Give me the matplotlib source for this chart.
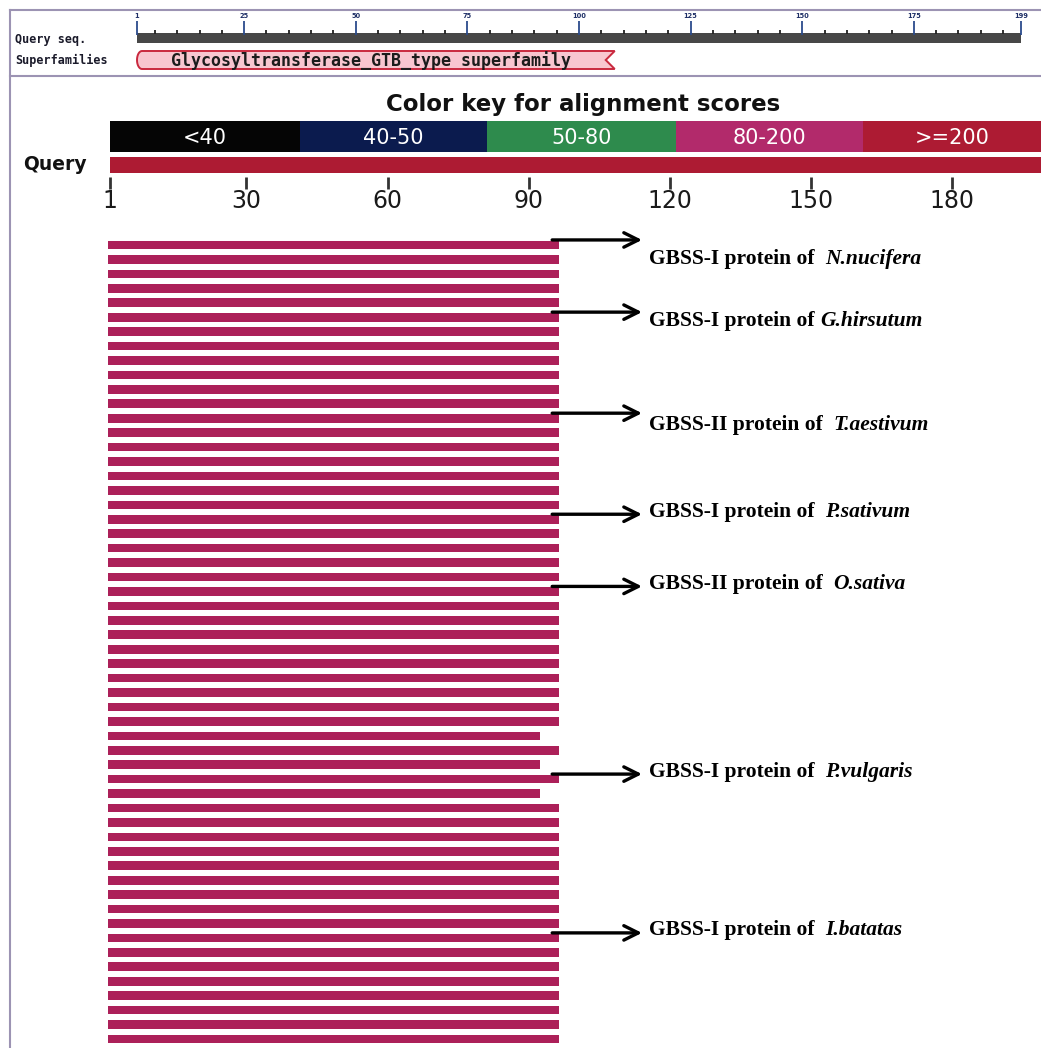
import numpy as np
import matplotlib
matplotlib.use("Agg")
import matplotlib.pyplot as plt
from matplotlib.patches import Rectangle, Polygon
from matplotlib.offsetbox import TextArea, HPacker, AnnotationBbox
from matplotlib.lines import Line2D
from matplotlib.transforms import blended_transform_factory

# ---------------- data ----------------
query_length = 199
ruler_major = [1, 25, 50, 75, 100, 125, 150, 175, 199]
domain_name = "Glycosyltransferase_GTB_type superfamily"
domain_start = 1
domain_end = 107

key_labels = ["<40", "40-50", "50-80", "80-200", ">=200"]
key_edges = [1, 41.4, 81.1, 121.3, 161.1, 201]
key_colors = ["#050505", "#0B1B4E", "#2E8B4D", "#B22A6B", "#AD1B33"]

scale_ticks = [1, 30, 60, 90, 120, 150, 180]

hit_start = [1] * 56
hit_end = [96, 96, 96, 96, 96, 96, 96, 96, 96, 96,
           96, 96, 96, 96, 96, 96, 96, 96, 96, 96,
           96, 96, 96, 96, 96, 96, 96, 96, 96, 96,
           96, 96, 96, 96, 92, 96, 92, 96, 92, 96,
           96, 96, 96, 96, 96, 96, 96, 96, 96, 96,
           96, 96, 96, 96, 96, 96]

annot_rows = [0, 5, 12, 19, 24, 37, 48]
annot_prefix = ["GBSS-I protein of  ", "GBSS-I protein of ", "GBSS-II protein of  ",
                "GBSS-I protein of  ", "GBSS-II protein of  ", "GBSS-I protein of  ",
                "GBSS-I protein of  "]
annot_species = ["N.nucifera", "G.hirsutum", "T.aestivum", "P.sativum",
                 "O.sativa", "P.vulgaris", "I.batatas"]

# ---------------- layout ----------------
W, H, DPI = 1041, 1048, 100
fig = plt.figure(figsize=(W / DPI, H / DPI), dpi=DPI)
fig.patch.set_facecolor("white")


def px_rect(x0, y0, x1, y1):
    return [x0 / W, 1 - y1 / H, (x1 - x0) / W, (y1 - y0) / H]


# main sequence scale: position 1 at px 110, 180 at px 952
s_main = (952 - 110) / 179.0
main_xlim = (1 - 110 / s_main, 1 + (W - 110) / s_main)
# header scale: 1 at px 137, 199 at px 1021
s_head = (1021 - 137) / 198.0
head_xlim = (1 - 137 / s_head, 1 + (W - 137) / s_head)

border_col = "#9C93B3"

# ---------------- header ----------------
axh = fig.add_axes(px_rect(0, 0, W, 80))
axh.set_xlim(*head_xlim)
axh.set_ylim(80, 0)
axh.axis("off")
tr_h = blended_transform_factory(axh.transAxes, axh.transData)

axh.text(15 / W, 40, "Query seq.", transform=tr_h, fontsize=8.5, fontweight="bold",
         family="DejaVu Sans Mono", va="center", ha="left", color="#1a1a2a")
axh.text(15 / W, 60, "Superfamilies", transform=tr_h, fontsize=8.5, fontweight="bold",
         family="DejaVu Sans Mono", va="center", ha="left", color="#1a1a2a")

axh.add_patch(Rectangle((1, 33), query_length - 1, 10, color="#474747", lw=0))
minor = [p for p in range(5, query_length, 5) if p not in ruler_major]
axh.vlines(minor, 29.5, 34, color="#222222", lw=1.3)
axh.vlines(ruler_major, 21, 35, color="#2B4B8C", lw=1.3)
for p in ruler_major:
    axh.text(p, 18.5, str(p), fontsize=4.8, fontweight="bold", color="#1E2F66",
             ha="center", va="bottom", family="DejaVu Sans")

# domain box with rounded left end and notched right end
ytop, ybot = 51, 69
ymid = (ytop + ybot) / 2
rx = 5 / s_head
ry = (ybot - ytop) / 2
notch = 9 / s_head
arc = [(domain_start + rx + rx * np.cos(t), ymid - ry * np.sin(t))
       for t in np.linspace(3 * np.pi / 2, np.pi / 2, 20)]
poly = Polygon([(domain_start + rx, ytop), (domain_end + 1, ytop),
                (domain_end + 1 - notch, ymid), (domain_end + 1, ybot),
                (domain_start + rx, ybot)] + arc,
               closed=True, facecolor="#F8C6D0", edgecolor="#C9283E", lw=1.4)
axh.add_patch(poly)
axh.text((domain_start + domain_end) / 2 - 0.5, ymid + 0.5, domain_name, fontsize=12,
         fontweight="bold", family="DejaVu Sans Mono", ha="center", va="center",
         color="#1c1c1c")

# ---------------- colour key + query ----------------
axk = fig.add_axes(px_rect(0, 80, W, 230))
axk.set_xlim(*main_xlim)
axk.set_ylim(230, 80)
axk.axis("off")
tr_k = blended_transform_factory(axk.transAxes, axk.transData)

axk.text(583 / W, 105, "Color key for alignment scores", transform=tr_k, fontsize=16.5,
         fontweight="bold", ha="center", va="center", color="#111111")
lefts = key_edges[:-1]
widths = [b - a for a, b in zip(key_edges[:-1], key_edges[1:])]
axk.barh([137] * 5, widths, left=lefts, height=31, color=key_colors, lw=0)
for a, w, lab in zip(lefts, widths, key_labels):
    xc = a + w / 2 if a + w < main_xlim[1] else (a + main_xlim[1]) / 2
    axk.text(xc, 138, lab, color="white", fontsize=15, ha="center", va="center")

axk.barh([165], [query_length - 1], left=1, height=16, color="#AD1B33", lw=0)
axk.text(23 / W, 165, "Query", transform=tr_k, fontsize=13.5, fontweight="bold",
         ha="left", va="center", color="#111111")
axk.vlines(scale_ticks, 177, 189, color="#333333", lw=2)
for t in scale_ticks:
    axk.text(t, 201, str(t), fontsize=17, ha="center", va="center", color="#1a1a1a")

# ---------------- alignment hits ----------------
axa = fig.add_axes(px_rect(0, 230, W, H))
axa.set_xlim(*main_xlim)
row_px = 14.436
axa.set_ylim(55 + (H - 1039) / row_px, -(245 - 230) / row_px)
axa.axis("off")

rows = list(range(len(hit_end)))
axa.barh(rows, [e - s + 1 for s, e in zip(hit_start, hit_end)],
         left=[s - 0.5 for s in hit_start], height=0.6, color="#AC2059", lw=0)

text_dy = [0.97, 0.26, 0.47, -0.5, -0.52, -0.5, -0.55]
tail_x = 95.0
head_x = 1 + (642 - 110) / s_main
text_x = 1 + (649 - 110) / s_main
for r, pre, sp, dy in zip(annot_rows, annot_prefix, annot_species, text_dy):
    ya = r - 0.35
    axa.annotate("", xy=(head_x, ya), xytext=(tail_x, ya),
                 arrowprops=dict(arrowstyle="->", lw=2.4, color="black",
                                 mutation_scale=26, shrinkA=0, shrinkB=0))
    ta = TextArea(pre, textprops=dict(family="Liberation Serif", fontweight="bold",
                                      fontsize=15.5, color="black"))
    tb = TextArea(sp, textprops=dict(family="Liberation Serif", fontweight="bold",
                                     style="italic", fontsize=15.5, color="black"))
    pack = HPacker(children=[ta, tb], align="baseline", pad=0, sep=0)
    ab = AnnotationBbox(pack, (text_x, r + dy), xycoords="data", box_alignment=(0, 0.5),
                        frameon=False, pad=0)
    axa.add_artist(ab)

# ---------------- borders ----------------
def fig_line(x0, y0, x1, y1, **kw):
    fig.add_artist(Line2D([x0 / W, x1 / W], [1 - y0 / H, 1 - y1 / H],
                          transform=fig.transFigure, **kw))

fig_line(9.5, 9.5, W, 9.5, color=border_col, lw=1.5)
fig_line(9.5, 75.5, W, 75.5, color=border_col, lw=1.5)
fig_line(9.5, 9.5, 9.5, H, color=border_col, lw=1.5)

fig.savefig("out.png", dpi=DPI, facecolor="white")
